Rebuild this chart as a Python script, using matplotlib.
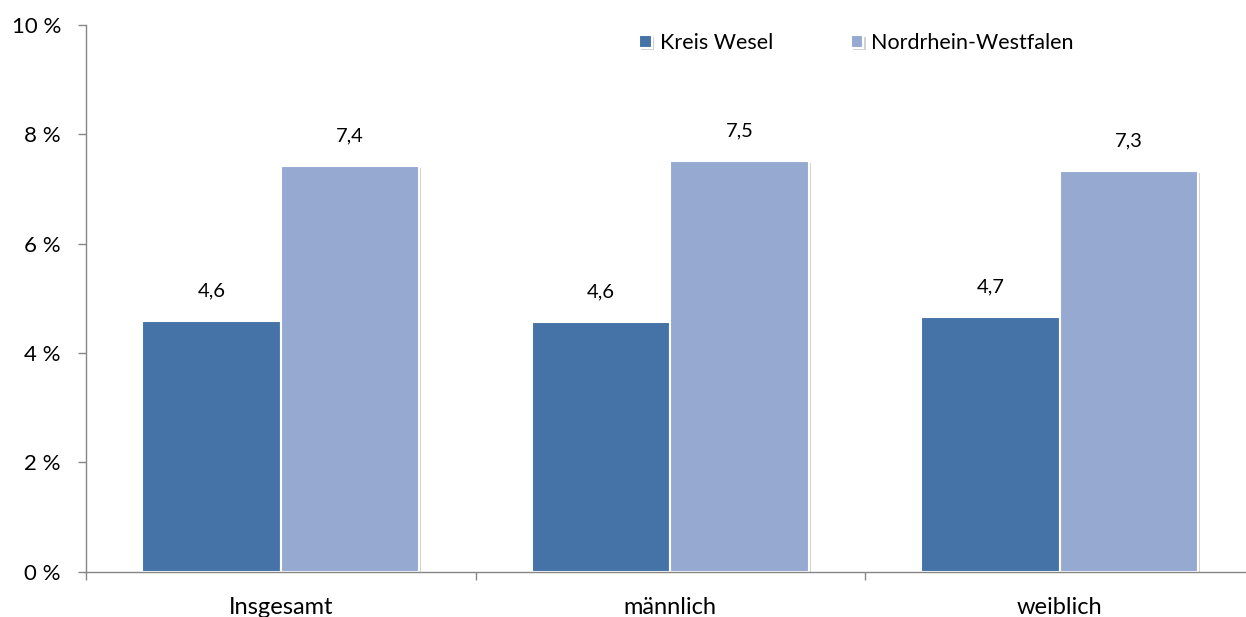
import matplotlib
matplotlib.use("Agg")
import matplotlib.pyplot as plt
import matplotlib.patheffects as pe
import numpy as np

categories = ["Insgesamt", "männlich", "weiblich"]
series_names = ["Kreis Wesel", "Nordrhein-Westfalen"]
kreis_wesel = [4.58, 4.56, 4.66]
nrw = [7.42, 7.51, 7.33]
y_ticks = [0, 2, 4, 6, 8, 10]

plt.rcParams['font.family'] = ['Lato', 'DejaVu Sans']

col_kw = "#4573A7"
col_nrw = "#96AAD1"
axis_col = "#868686"

fig = plt.figure(figsize=(12.46, 6.17), dpi=100)
ax = fig.add_axes([86/1246, 45.3/617, 3*389.5/1246, 546.7/617])

x = np.arange(len(categories)) + 0.5
w = 0.355
shadow = [pe.SimplePatchShadow(offset=(1.5, -1.5), shadow_rgbFace="#808080", alpha=0.35), pe.Normal()]

b1 = ax.bar(x - w/2, kreis_wesel, w, color=col_kw, edgecolor="white", linewidth=1.5,
            label=series_names[0], path_effects=shadow)
b2 = ax.bar(x + w/2, nrw, w, color=col_nrw, edgecolor="white", linewidth=1.5,
            label=series_names[1], path_effects=shadow)

# Werte ueber den Balken, mit Komma
for bars, vals in ((b1, kreis_wesel), (b2, nrw)):
    for rect, v in zip(bars, vals):
        ax.annotate(f"{v:.1f}".replace(".", ","),
                    (rect.get_x() + rect.get_width()/2, v),
                    xytext=(0, 22), textcoords="offset points",
                    ha="center", va="center", fontsize=14.5)

ax.set_xlim(0, 3)
ax.set_ylim(0, 10)
ax.set_yticks(y_ticks)
ax.set_yticklabels([f"{t} %" for t in y_ticks], fontsize=16)
ax.set_xticks([0, 1, 2, 3])
ax.set_xticklabels([])
ax.set_xticks(x, minor=True)
ax.set_xticklabels(categories, minor=True, fontsize=17)
ax.tick_params(axis="x", which="minor", length=0, pad=18.5)
ax.tick_params(axis="x", which="major", length=6, width=1, color=axis_col)
ax.tick_params(axis="y", length=6, width=1, color=axis_col, pad=12)

for s in ("top", "right"):
    ax.spines[s].set_visible(False)
for s in ("left", "bottom"):
    ax.spines[s].set_color(axis_col)
    ax.spines[s].set_linewidth(1)

fig.legend(handles=[b1, b2], loc="center left", bbox_to_anchor=(620/1246, 1 - 43/617),
           ncol=2, frameon=False, fontsize=15.5, handlelength=0.6, handleheight=0.6,
           handletextpad=0.35, columnspacing=3.6)

fig.savefig("out.png", dpi=100)
